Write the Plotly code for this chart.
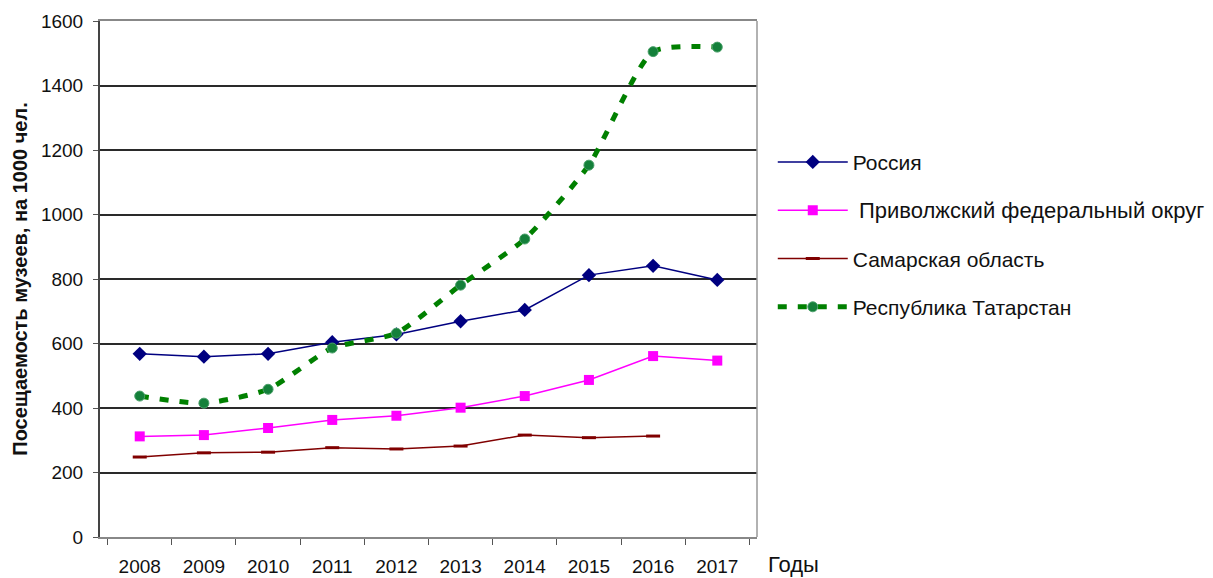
import plotly.graph_objects as go

years = ["2008", "2009", "2010", "2011", "2012", "2013", "2014", "2015", "2016", "2017"]
russia = [568, 559, 568, 604, 628, 669, 704, 812, 841, 797]
privolzh = [312, 316, 338, 363, 376, 401, 437, 487, 561, 547]
samara = [248, 261, 263, 277, 273, 282, 316, 308, 313, None]
tatarstan = [437, 415, 458, 586, 632, 781, 924, 1153, 1505, 1519]

names = ["Россия", "Приволжский федеральный округ", "Самарская область", "Республика Татарстан"]
y_ticks = [0, 200, 400, 600, 800, 1000, 1200, 1400, 1600]

FONT = "Liberation Sans, Arial, sans-serif"

fig = go.Figure()
fig.add_trace(go.Scatter(
    x=years, y=russia, name=names[0], mode="lines+markers", legendgroup="a",
    line=dict(color="#000080", width=1.5),
    marker=dict(symbol="diamond", size=11, color="#000080")))
fig.add_trace(go.Scatter(
    x=years, y=privolzh, name='<span style="font-size:22px"> ' + names[1] + '</span>',
    mode="lines+markers", legendgroup="b",
    line=dict(color="#FF00FF", width=1.5),
    marker=dict(symbol="square", size=10, color="#FF00FF")))
fig.add_trace(go.Scatter(
    x=years, y=samara, name=names[2], mode="lines+markers", legendgroup="c",
    line=dict(color="#800000", width=1.5),
    marker=dict(symbol="line-ew", size=10, line=dict(color="#800000", width=3))))
fig.add_trace(go.Scatter(
    x=years, y=tatarstan, name=names[3], mode="lines+markers", legendgroup="d",
    line=dict(color="#008000", width=5, dash="9px,11px", shape="spline", smoothing=0.6),
    marker=dict(symbol="circle", size=10, color="#14803a", line=dict(color="#4aa06a", width=1))))

fig.update_layout(
    width=1205, height=570,
    margin=dict(l=92, r=456, t=13, b=41, autoexpand=False),
    paper_bgcolor="white", plot_bgcolor="white",
    font=dict(family=FONT, size=18, color="#111"),
    showlegend=True,
    legend=dict(x=1.024, y=0.766, xanchor="left", yanchor="top",
                font=dict(family=FONT, size=21, color="#111"),
                traceorder="grouped", tracegroupgap=18, itemwidth=70,
                bgcolor="rgba(0,0,0,0)"),
)
fig.update_xaxes(
    type="category", tickson="boundaries", ticks="outside", ticklen=6,
    tickcolor="#555", showline=True, linecolor="#888", linewidth=1.5, mirror=True,
    showgrid=False, tickfont=dict(family=FONT, size=19, color="#111"),
    ticklabelstandoff=11, automargin=False,
)
fig.update_yaxes(
    range=[0, 1600], tickvals=y_ticks, ticks="outside", ticklen=5, tickcolor="#555",
    showline=True, linecolor="#444", linewidth=2,
    showgrid=True, gridcolor="#2a2a2a", gridwidth=1.5, zeroline=False,
    tickfont=dict(family=FONT, size=19, color="#111"), ticklabelstandoff=6,
    automargin=False,
    title=dict(text="<b>Посещаемость музеев, на 1000 чел.</b>",
               font=dict(family=FONT, size=20, color="#111"), standoff=8),
)
fig.add_shape(type="line", xref="paper", yref="paper", x0=1, x1=1, y0=0, y1=1,
              line=dict(color="#999", width=1.5))
fig.add_annotation(text="Годы", xref="paper", yref="paper", x=1.014, y=-0.026,
                   xanchor="left", yanchor="top", showarrow=False,
                   font=dict(family=FONT, size=22, color="#111"))

fig.write_html("out.html")
